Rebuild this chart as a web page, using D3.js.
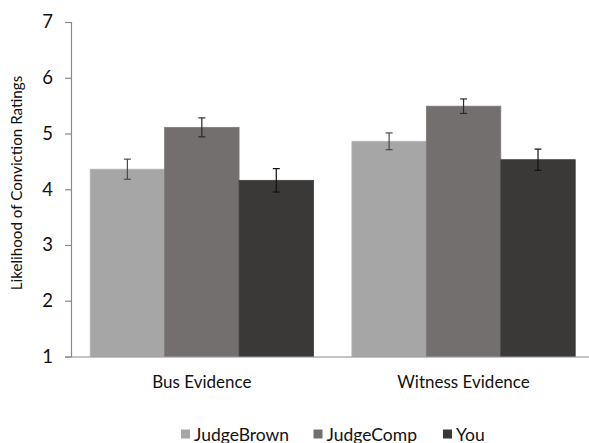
<!DOCTYPE html>
<html>
<head>
<meta charset="utf-8">
<script src="https://cdn.jsdelivr.net/npm/d3@7"></script>
<style>
  html, body { margin: 0; padding: 0; background: #fff; }
  svg { display: block; font-family: Lato, "Open Sans", sans-serif; }
</style>
</head>
<body>
<svg id="chart" width="589" height="443"></svg>
<script>
// Conviction ratings by evidence type and decision-maker
const categories = ["Bus Evidence", "Witness Evidence"];
const seriesNames = ["JudgeBrown", "JudgeComp", "You"];
const judgeBrown = [4.36, 4.86];
const judgeComp = [5.11, 5.49];
const you = [4.16, 4.53];
const judgeBrownErr = [0.18, 0.15];
const judgeCompErr = [0.17, 0.13];
const youErr = [0.21, 0.19];
const yTicks = [1, 2, 3, 4, 5, 6, 7];

const colors = ["#a6a6a6", "#736f6e", "#3b3938"];
const errColors = ["#4a4a4a", "#2a2a2a", "#111111"];

const values = [judgeBrown, judgeComp, you];
const errors = [judgeBrownErr, judgeCompErr, youErr];

const svg = d3.select("#chart");
const plotLeft = 71, plotRight = 594.4, plotTop = 22, plotBottom = 356.5;

const x0 = d3.scaleBand().domain(categories).range([plotLeft, plotRight]).paddingInner(0.1467).paddingOuter(0.0733);
const x1 = d3.scaleBand().domain(seriesNames).range([0, x0.bandwidth()]);
const y = d3.scaleLinear().domain([1, 7]).range([plotBottom, plotTop]);

// bars
const groups = svg.append("g").selectAll("g")
  .data(categories).join("g")
  .attr("transform", d => `translate(${x0(d)},0)`);

groups.each(function(cat, ci) {
  const g = d3.select(this);
  seriesNames.forEach((s, si) => {
    const v = values[si][ci];
    g.append("rect")
      .attr("x", x1(s))
      .attr("y", y(v))
      .attr("width", x1.bandwidth())
      .attr("height", y(1) - y(v))
      .attr("fill", colors[si])
      .attr("stroke", d3.color(colors[si]).brighter(0.25))
      .attr("stroke-width", 0.8);
  });
  // error bars
  seriesNames.forEach((s, si) => {
    const v = values[si][ci], e = errors[si][ci];
    const cx = x1(s) + x1.bandwidth() / 2;
    const eg = g.append("g").attr("stroke", errColors[si]).attr("stroke-width", 1.2);
    eg.append("line").attr("x1", cx).attr("x2", cx).attr("y1", y(v + e)).attr("y2", y(v - e));
    eg.append("line").attr("x1", cx - 3.5).attr("x2", cx + 3.5).attr("y1", y(v + e)).attr("y2", y(v + e));
    eg.append("line").attr("x1", cx - 3.5).attr("x2", cx + 3.5).attr("y1", y(v - e)).attr("y2", y(v - e));
  });
});

// y axis
const yAxis = svg.append("g")
  .attr("transform", `translate(${plotLeft},0)`)
  .call(d3.axisLeft(y).tickValues(yTicks).tickFormat(d3.format("d")).tickSize(6).tickPadding(12));
yAxis.select(".domain").attr("stroke", "#8a8a8a").attr("stroke-width", 1.2);
yAxis.selectAll(".tick line").attr("stroke", "#8a8a8a").attr("stroke-width", 1.2);
yAxis.selectAll(".tick text").attr("font-size", 18.5).attr("fill", "#111")
  .attr("font-family", "Lato, sans-serif");

// x axis baseline
const xAxis = svg.append("g")
  .attr("transform", `translate(0,${plotBottom})`)
  .call(d3.axisBottom(x0).tickSize(0).tickPadding(19));
xAxis.select(".domain").attr("stroke", "#8a8a8a").attr("stroke-width", 1.2);
xAxis.selectAll(".tick text").attr("font-size", 17).attr("fill", "#111")
  .attr("font-family", "Lato, sans-serif");

// y axis title
svg.append("text")
  .attr("transform", `translate(22,${(76 + 290) / 2}) rotate(-90)`)
  .attr("text-anchor", "middle")
  .attr("font-size", 15.2)
  .attr("fill", "#111")
  .text("Likelihood of Conviction Ratings");

// legend
const legendX = [181, 313.5, 443];
const legend = svg.append("g");
seriesNames.forEach((s, i) => {
  legend.append("rect")
    .attr("x", legendX[i]).attr("y", 429.5)
    .attr("width", 9).attr("height", 9)
    .attr("fill", colors[i]);
  legend.append("text")
    .attr("x", legendX[i] + 13).attr("y", 440.5)
    .attr("font-size", 17.5).attr("fill", "#111")
    .text(s);
});
</script>
</body>
</html>
